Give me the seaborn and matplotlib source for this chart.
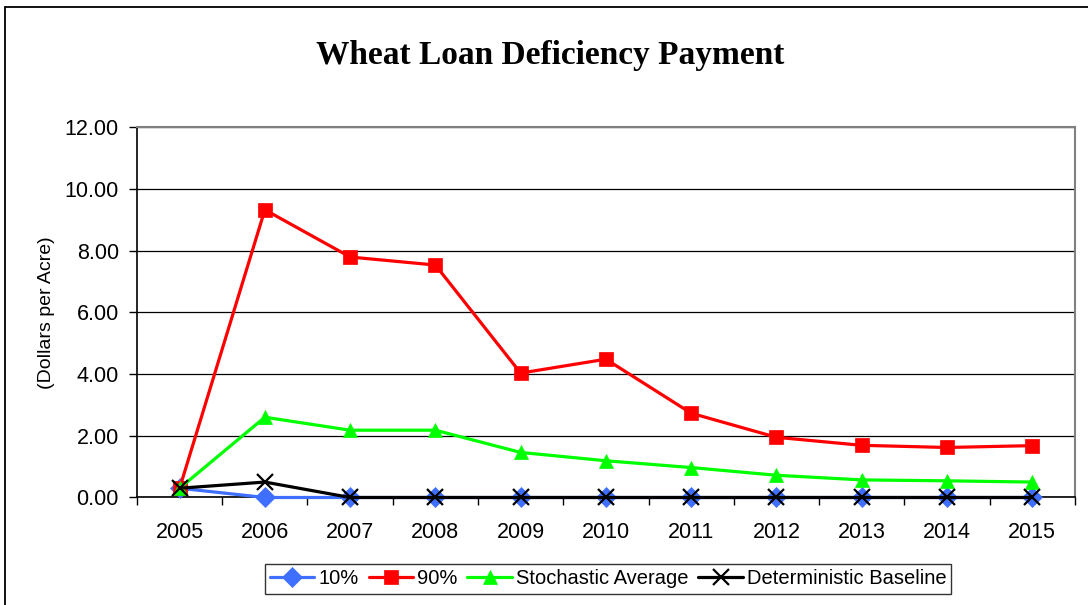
import pandas as pd
import matplotlib
matplotlib.use("Agg")
import matplotlib.pyplot as plt
import matplotlib.ticker as ticker
from matplotlib.patches import Rectangle
import seaborn as sns

years = ["2005", "2006", "2007", "2008", "2009", "2010",
         "2011", "2012", "2013", "2014", "2015"]
p10 = [0.30, 0.0, 0.0, 0.0, 0.0, 0.0, 0.0, 0.0, 0.0, 0.0, 0.0]
p90 = [0.30, 9.32, 7.79, 7.53, 4.03, 4.48, 2.73, 1.95, 1.69, 1.62, 1.68]
stoch_avg = [0.30, 2.60, 2.18, 2.18, 1.46, 1.19, 0.97, 0.72, 0.57, 0.54, 0.50]
det_base = [0.30, 0.50, 0.0, 0.0, 0.0, 0.0, 0.0, 0.0, 0.0, 0.0, 0.0]

series = [
    ("10%", p10, "#3F6FFF", "D"),
    ("90%", p90, "#FF0000", "s"),
    ("Stochastic Average", stoch_avg, "#00FF00", "^"),
    ("Deterministic Baseline", det_base, "#000000", "x"),
]

sns.set_style("white")
plt.rcParams["font.family"] = ["Liberation Sans", "DejaVu Sans"]
plt.rcParams["text.color"] = "black"
plt.rcParams["xtick.color"] = "black"
plt.rcParams["ytick.color"] = "black"
plt.rcParams["axes.labelcolor"] = "black"

fig = plt.figure(figsize=(10.88, 6.05), dpi=100)
ax = fig.add_axes([0.1259, 0.1777, 0.862, 0.6123])

for name, vals, col, mk in series:
    df = pd.DataFrame({"Year": years, "Value": vals})
    sns.lineplot(data=df, x="Year", y="Value", ax=ax, color=col, marker=mk,
                 markersize=10 if mk != "x" else 11, markeredgecolor=col,
                 markeredgewidth=1.6 if mk == "x" else 0.5,
                 linewidth=2.3, label=name, sort=False, clip_on=False,
                 zorder=3)

ax.set_xlim(-0.5, 10.5)
ax.set_ylim(0, 12)
ax.yaxis.set_major_locator(ticker.MultipleLocator(2))
ax.yaxis.set_major_formatter(ticker.FormatStrFormatter("%.2f"))
ax.xaxis.set_minor_locator(ticker.FixedLocator([i + 0.5 for i in range(-1, 11)]))
ax.tick_params(axis="x", which="major", length=0, pad=18, labelsize=15.5)
ax.tick_params(axis="x", which="minor", length=6, width=1, color="black",
               direction="out", bottom=True)
ax.tick_params(axis="y", length=6, width=1, color="black", direction="out",
               left=True, pad=7, labelsize=15.5)
ax.grid(axis="y", color="black", linewidth=0.9)
ax.set_axisbelow(True)

ax.set_xlabel("")
ax.set_ylabel("(Dollars per Acre)", fontsize=14, labelpad=7)
for side in ["left", "bottom"]:
    ax.spines[side].set_color("black")
    ax.spines[side].set_linewidth(1.2)
for side in ["top", "right"]:
    ax.spines[side].set_color("#808080")
    ax.spines[side].set_linewidth(1.5)

fig.text(0.506, 0.909, "Wheat Loan Deficiency Payment", ha="center", va="center",
         fontsize=24, fontweight="bold", color="black",
         family=["Liberation Serif", "DejaVu Serif"])

ax.legend(loc="center", bbox_to_anchor=(0.559, 0.043),
          bbox_transform=fig.transFigure, ncol=4, fontsize=14.5, frameon=True,
          fancybox=False, edgecolor="black", handlelength=2.2,
          handletextpad=0.2, columnspacing=0.5, borderpad=0.25)
ax.get_legend().get_frame().set_linewidth(1.0)

fig.patches.append(Rectangle((0.0045, -0.1), 1.2, 1.1 - 7 / 605,
                             transform=fig.transFigure, fill=False,
                             edgecolor="black", linewidth=1.3))

fig.savefig("out.png", dpi=100)
